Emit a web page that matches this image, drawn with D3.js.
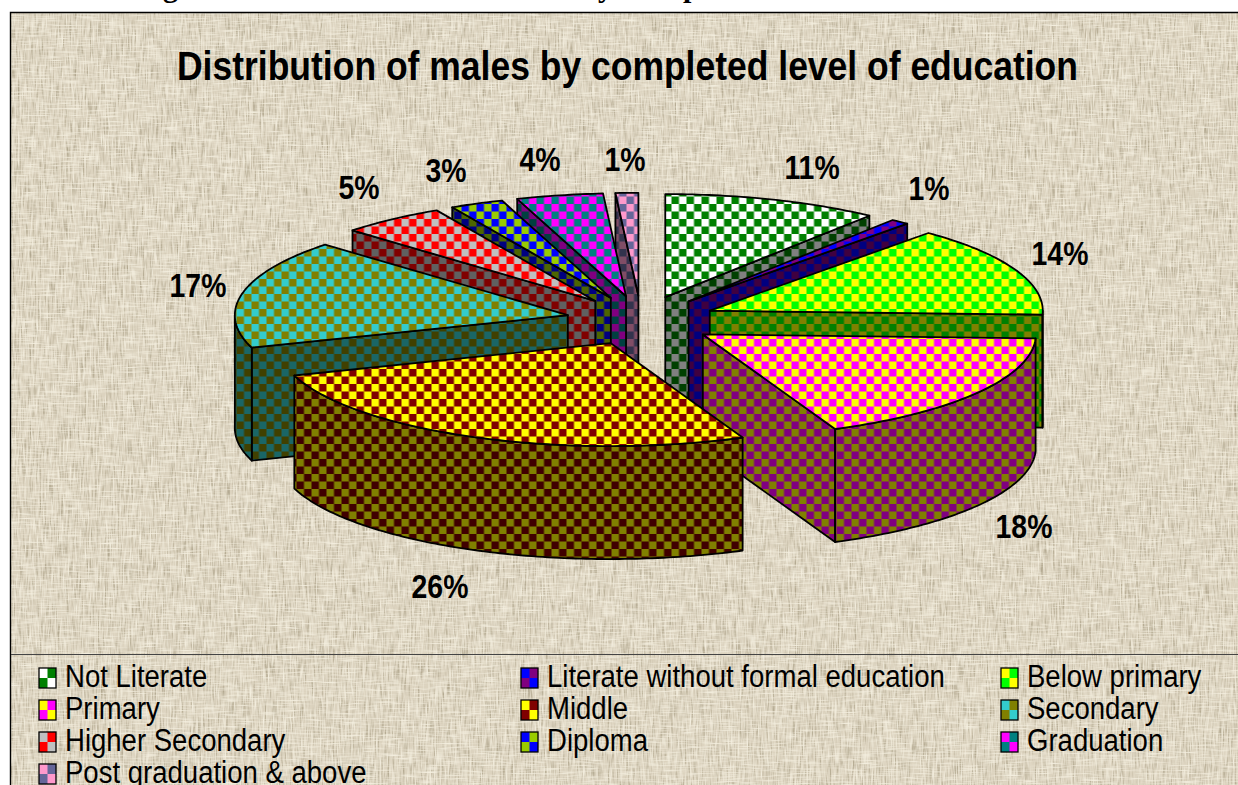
<!DOCTYPE html>
<html><head><meta charset="utf-8">
<script src="https://cdn.jsdelivr.net/npm/d3@7"></script>
<style>html,body{margin:0;padding:0;background:#fff;overflow:hidden}svg{display:block}text{font-family:"Liberation Sans",Arial,sans-serif}</style>
</head><body><svg id="c" width="1238" height="785"></svg>
<script>
const titleText = "Distribution of males by completed level of education";
const categories = ["Not Literate","Literate without formal education","Below primary","Primary","Middle","Secondary","Higher Secondary","Diploma","Graduation","Post graduation & above"];
const values = [10.5,0.9,14.2,17.9,26.4,17.1,5.1,2.6,4.2,1.1];
const colorA = ["#ffffff","#0000ff","#ffff00","#ffff00","#ffff00","#33cccc","#c0c0c0","#0000ff","#ff00ff","#ff99cc"];
const colorB = ["#008000","#800080","#00ff00","#ff00ff","#800000","#808000","#ff0000","#99cc00","#008080","#666699"];
const drawOrder = [9,8,7,6,0,1,2,5,3,4];
const labelAt = [[812,167],[929,188],[1060,253],[1024,526],[440,586],[198,285],[359,187],[446,170],[540,159],[625,159]];
const clippedHeadingGlyphs = [["g",163],["y",598],["p",683]];

const W=1238,H=785;
const svg=d3.select("#c"), defs=svg.append("defs");
const cx=641, cy=320.5, rx=333, ry=103, depth=113, explodeX=0.225, explodeY=0.24, cell=7.5;

/* paper texture */
const f=defs.append("filter").attr("id","tex").attr("x",0).attr("y",0).attr("width","100%").attr("height","100%").attr("color-interpolation-filters","sRGB");
f.append("feTurbulence").attr("type","fractalNoise").attr("baseFrequency","0.05 0.6").attr("numOctaves",2).attr("seed",5).attr("result","h");
f.append("feColorMatrix").attr("in","h").attr("type","matrix").attr("values","0 0 0 0 0.96  0 0 0 0 0.94  0 0 0 0 0.88  2.2 0 0 0 -1.0").attr("result","hw");
f.append("feTurbulence").attr("type","fractalNoise").attr("baseFrequency","0.6 0.05").attr("numOctaves",2).attr("seed",11).attr("result","v");
f.append("feColorMatrix").attr("in","v").attr("type","matrix").attr("values","0 0 0 0 0.66  0 0 0 0 0.62  0 0 0 0 0.52  2.0 0 0 0 -0.9").attr("result","vd");
f.append("feTurbulence").attr("type","fractalNoise").attr("baseFrequency","0.6 0.06").attr("numOctaves",2).attr("seed",21).attr("result","v2");
f.append("feColorMatrix").attr("in","v2").attr("type","matrix").attr("values","0 0 0 0 0.96  0 0 0 0 0.94  0 0 0 0 0.88  2.2 0 0 0 -1.0").attr("result","vw");
const m=f.append("feMerge");
["SourceGraphic","vd","hw","vw"].forEach(k=>m.append("feMergeNode").attr("in",k));

svg.append("rect").attr("x",11).attr("y",13).attr("width",W-11).attr("height",H-13).attr("fill","#dcd3bf").attr("filter","url(#tex)");
svg.append("path").attr("d",`M10.5,${H}V12.5H${W}`).attr("fill","none").attr("stroke","#000").attr("stroke-width",1.4);
svg.append("line").attr("x1",11).attr("x2",W).attr("y1",654.5).attr("y2",654.5).attr("stroke","#444").attr("stroke-width",1);

svg.append("g").selectAll("text").data(clippedHeadingGlyphs).join("text")
  .text(d=>d[0]).attr("x",d=>d[1]).attr("y",-3).attr("font-size",30).attr("font-weight",700).style("font-family","'Liberation Serif',serif");

/* checker fills */
function half(c){const r=d3.rgb(c);return d3.rgb(r.r*.5,r.g*.5,r.b*.5).formatHex();}
function checker(id,a,b){
  const p=defs.append("pattern").attr("id",id).attr("patternUnits","userSpaceOnUse").attr("width",cell*2).attr("height",cell*2).attr("patternTransform","translate(-3.5,9)");
  p.append("rect").attr("width",cell*2).attr("height",cell*2).attr("fill",a);
  p.append("rect").attr("width",cell).attr("height",cell).attr("x",cell).attr("fill",b);
  p.append("rect").attr("width",cell).attr("height",cell).attr("y",cell).attr("fill",b);
}
categories.forEach((c,i)=>{checker("t"+i,colorA[i],colorB[i]);checker("w"+i,half(colorA[i]),half(colorB[i]));});

/* slices */
const arcs=d3.pie().sort(null).value(d=>d)(values);
const ex=d3.scaleLinear().domain([-1,1]).range([-rx,rx]);
const ey=d3.scaleLinear().domain([-1,1]).range([ry,-ry]);
const line=d3.line();
const pie=svg.append("g").attr("stroke","#000").attr("stroke-width",1.8).attr("stroke-linejoin","round");
drawOrder.forEach(i=>{
  const a=arcs[i], mid=(a.startAngle+a.endAngle)/2;
  const ax=cx+explodeX*ex(Math.sin(mid)), ay=cy+explodeY*ey(Math.cos(mid));
  const P=t=>[ax+ex(Math.sin(t)),ay+ey(Math.cos(t))];
  const rim=(t0,t1)=>{const n=Math.max(2,Math.ceil((t1-t0)*60));return d3.range(n+1).map(k=>P(t0+(t1-t0)*k/n));};
  const down=p=>[p[0],p[1]+depth];
  const wallFill=`url(#w${i})`;
  const wall=pts=>pie.append("path").attr("d",line(pts.concat(pts.slice().reverse().map(down)))+"Z").attr("fill",wallFill);
  if(Math.sin(a.startAngle)<-1e-6) wall([[ax,ay],P(a.startAngle)]);
  if(Math.sin(a.endAngle)>1e-6) wall([[ax,ay],P(a.endAngle)]);
  const t0=Math.max(a.startAngle,Math.PI/2), t1=Math.min(a.endAngle,Math.PI*1.5);
  if(t1>t0) wall(rim(t0,t1));
  pie.append("path").attr("d",line([[ax,ay]].concat(rim(a.startAngle,a.endAngle)))+"Z").attr("fill",`url(#t${i})`);
});

/* squeezed text helper: the reference text is narrower than the face's natural width */
function squeeze(sel,k){sel.each(function(){this.setAttribute("textLength",this.getComputedTextLength()*k);this.setAttribute("lengthAdjust","spacingAndGlyphs");});return sel;}

squeeze(svg.append("text").text(titleText).attr("x",177).attr("y",80).attr("font-size",40).attr("font-weight",700),0.887);

squeeze(svg.append("g").selectAll("text").data(arcs).join("text")
  .text(d=>d3.format(".0f")(d.value)+"%")
  .attr("x",(d,i)=>labelAt[i][0]).attr("y",(d,i)=>labelAt[i][1]+12)
  .attr("text-anchor","middle").attr("font-size",33).attr("font-weight",700),0.86);

/* legend */
const colX=d3.scaleOrdinal().domain([0,1,2]).range([39,521,1001]);
const rowY=d3.scaleLinear().domain([0,3]).range([668,764]);
const lg=svg.append("g").selectAll("g").data(categories).join("g")
  .attr("transform",(d,i)=>`translate(${colX(i%3)},${rowY(Math.floor(i/3))})`);
lg.append("rect").attr("width",17).attr("height",20).attr("fill",(d,i)=>colorA[i]);
lg.append("path").attr("d","M8.5,0H17V10H8.5ZM0,10H8.5V20H0Z").attr("fill",(d,i)=>colorB[i]);
lg.append("rect").attr("width",17).attr("height",20).attr("fill","none").attr("stroke","#000").attr("stroke-width",1.3);
squeeze(lg.append("text").text(d=>d).attr("x",26).attr("y",19).attr("font-size",31),0.888);
</script></body></html>
